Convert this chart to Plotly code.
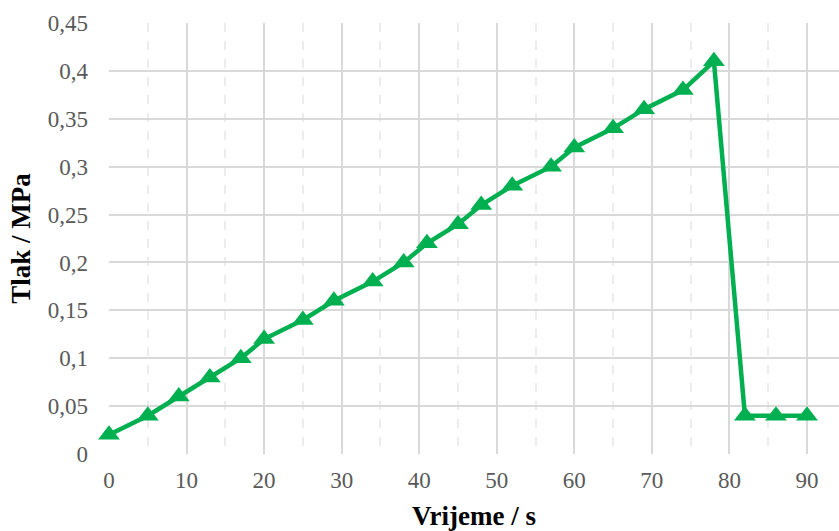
import plotly.graph_objects as go

# Pressure vs. time measurements
vrijeme_s = [0, 5, 9, 13, 17, 20, 25, 29, 34, 38, 41, 45, 48, 52, 57, 60,
             65, 69, 74, 78, 82, 86, 90]
tlak_mpa = [0.02, 0.04, 0.06, 0.08, 0.10, 0.12, 0.14, 0.16, 0.18, 0.20, 0.22,
            0.24, 0.26, 0.28, 0.30, 0.32, 0.34, 0.36, 0.38, 0.41, 0.04, 0.04, 0.04]

x_ticks = [0, 10, 20, 30, 40, 50, 60, 70, 80, 90]
y_ticks = [0, 0.05, 0.1, 0.15, 0.2, 0.25, 0.3, 0.35, 0.4, 0.45]
y_tick_text = ["0", "0,05", "0,1", "0,15", "0,2", "0,25", "0,3", "0,35", "0,4", "0,45"]

GREEN = "#00b050"
GRID = "#d9d9d9"
FONT = "Liberation Serif"

fig = go.Figure()
fig.add_trace(go.Scatter(
    x=vrijeme_s, y=tlak_mpa, mode="lines+markers",
    line=dict(color=GREEN, width=4.5),
    marker=dict(symbol="triangle-up", size=19, color=GREEN),
    cliponaxis=False, showlegend=False,
))

fig.update_layout(
    width=839, height=531,
    margin=dict(l=109, r=0, t=23, b=77),
    paper_bgcolor="white", plot_bgcolor="white",
    font=dict(family=FONT, size=23, color="#595959"),
    xaxis=dict(
        range=[0, 94.13], tickvals=x_ticks, ticks="", showline=False,
        showgrid=True, gridcolor=GRID, gridwidth=2, zeroline=False,
        minor=dict(dtick=5, tick0=0, showgrid=True, gridcolor="#ececec",
                   griddash="dash", gridwidth=2),
        title=dict(text="<b>Vrijeme / s</b>", standoff=16,
                   font=dict(family=FONT, size=27, color="black")),
        ticklabelstandoff=10,
    ),
    yaxis=dict(
        range=[0, 0.45], tickvals=y_ticks, ticktext=y_tick_text, ticks="",
        showgrid=True, gridcolor=GRID, gridwidth=2, zeroline=False,
        showline=False,
        title=dict(text="<b>Tlak / MPa</b>", standoff=9,
                   font=dict(family=FONT, size=27, color="black")),
        ticklabelstandoff=20,
    ),
)

fig.write_html("out.html")
